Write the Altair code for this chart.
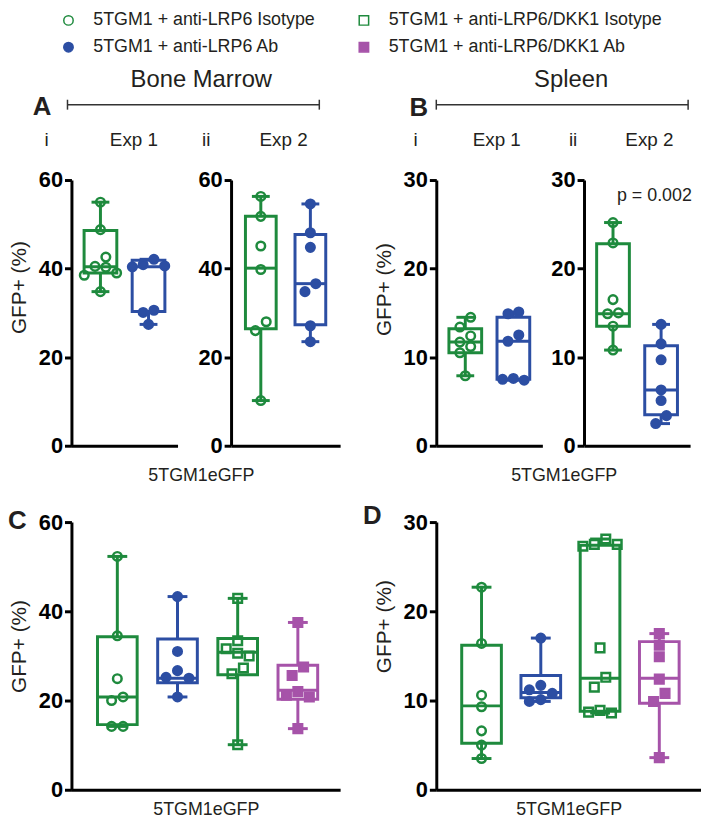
import altair as alt
import pandas as pd

FONT = "Liberation Sans"
TXT = "#231f20"

# ---------------- groups & styling ----------------
G1 = "5TGM1 + anti-LRP6 Isotype"
G2 = "5TGM1 + anti-LRP6 Ab"
G3 = "5TGM1 + anti-LRP6/DKK1 Isotype"
G4 = "5TGM1 + anti-LRP6/DKK1 Ab"
legend_groups = [G1, G2, G3, G4]
GREEN, BLUE, PURPLE = "#1e8a3d", "#2c4ea3", "#a653a9"
stroke_range = [GREEN, BLUE, GREEN, PURPLE]
fill_range = ["transparent", BLUE, "transparent", PURPLE]
shape_range = ["circle", "circle", "square", "square"]
group_color = dict(zip(legend_groups, stroke_range))

# ---------------- data (GFP+ %) ----------------
ai_iso = [55.0, 48.8, 42.6, 40.5, 40.3, 39.0, 38.5, 34.8]
ai_ab = [42.1, 40.9, 40.6, 40.4, 30.6, 30.1, 27.4]
aii_iso = [56.3, 51.8, 45.1, 39.8, 28.0, 26.0, 10.2]
aii_ab = [54.6, 48.1, 44.8, 36.6, 34.8, 27.1, 23.5]
bi_iso = [14.5, 13.4, 12.4, 11.7, 11.2, 10.5, 7.9]
bi_ab = [15.1, 14.9, 12.5, 11.8, 7.6, 7.5, 7.4]
bii_iso = [25.2, 22.9, 16.5, 15.0, 14.9, 13.5, 10.8]
bii_ab = [13.7, 11.5, 9.7, 6.3, 5.1, 3.4, 2.5]
c_iso = [52.3, 34.5, 24.9, 20.8, 20.0, 14.2, 14.2]
c_ab = [43.3, 31.0, 26.7, 25.2, 25.0, 20.8]
c_dkk_iso = [42.9, 33.4, 31.6, 30.6, 30.0, 27.3, 26.0, 10.1]
c_dkk_ab = [37.5, 27.5, 25.6, 22.0, 21.2, 20.8, 13.7]
d_iso = [22.7, 16.4, 10.6, 9.3, 6.6, 5.0, 3.5]
d_ab = [17.0, 11.7, 11.2, 10.8, 10.1, 9.9]
d_dkk_iso = [28.1, 27.5, 27.5, 27.3, 15.9, 12.6, 11.5, 8.9, 8.7, 8.6]
d_dkk_ab = [17.5, 16.2, 14.9, 12.4, 10.8, 9.9, 3.6]

# box statistics: min, Q1, median, Q3, max
ai_iso_box = [34.8, 39.0, 40.4, 48.6, 55.0]
ai_ab_box = [27.4, 30.3, 40.4, 41.9, 42.1]
aii_iso_box = [10.2, 26.4, 40.1, 51.8, 56.3]
aii_ab_box = [23.5, 27.3, 36.6, 47.7, 54.6]
bi_iso_box = [7.9, 10.5, 11.7, 13.2, 14.5]
bi_ab_box = [7.4, 7.5, 11.8, 14.5, 15.1]
bii_iso_box = [10.8, 13.5, 14.9, 22.8, 25.2]
bii_ab_box = [2.5, 3.5, 6.3, 11.3, 13.7]
c_iso_box = [14.2, 14.6, 20.8, 34.3, 52.3]
c_ab_box = [20.8, 24.0, 25.0, 33.8, 43.3]
c_dkk_iso_box = [10.1, 25.8, 30.8, 33.9, 42.9]
c_dkk_ab_box = [13.7, 20.3, 22.3, 27.9, 37.5]
d_iso_box = [3.5, 5.2, 9.4, 16.2, 22.7]
d_ab_box = [9.9, 10.3, 10.9, 12.8, 17.0]
d_dkk_iso_box = [8.6, 8.8, 12.5, 27.4, 28.1]
d_dkk_ab_box = [3.6, 9.7, 12.5, 16.6, 17.5]

y_ticks_60 = [0, 20, 40, 60]
y_ticks_30 = [0, 10, 20, 30]


def swarm(vals, thr):
    order = sorted(range(len(vals)), key=lambda i: -vals[i])
    slots = [0] * len(vals)
    placed = []
    for i in order:
        v = vals[i]
        chosen = 0
        for s in [0, -1, 1, -2, 2, -3, 3]:
            if all(abs(v - pv) >= thr for ps, pv in placed if ps == s):
                chosen = s
                break
        slots[i] = chosen
        placed.append((chosen, v))
    clusters, cur = [], [order[0]]
    for a, b in zip(order, order[1:]):
        if vals[a] - vals[b] < thr:
            cur.append(b)
        else:
            clusters.append(cur)
            cur = [b]
    clusters.append(cur)
    out = [0.0] * len(vals)
    for cl in clusters:
        ss = [slots[i] for i in cl]
        shift = (min(ss) + max(ss)) / 2
        for i in cl:
            out[i] = slots[i] - shift
    return out


def txt(s, x, y, size=19, weight="normal", align="center"):
    return alt.Chart(pd.DataFrame({"t": [s]})).mark_text(
        font=FONT, fontSize=size, fontWeight=weight, align=align,
        baseline="middle", color=TXT
    ).encode(x=alt.value(x), y=alt.value(y), text="t:N")


def rule(x1, x2, y1, y2):
    return alt.Chart(pd.DataFrame({"t": [0]})).mark_rule(
        color="#333333", strokeWidth=1.5
    ).encode(x=alt.value(x1), x2=alt.value(x2), y=alt.value(y1), y2=alt.value(y2))


def bracket(x1, x2, y):
    return [rule(x1, x2, y, y), rule(x1, x1, y - 5, y + 5), rule(x2, x2, y - 5, y + 5)]


LEG = alt.Legend(
    orient="none", legendX=-12, legendY=0, columns=2, title=None,
    labelFontSize=18, labelFont=FONT, labelColor=TXT, labelLimit=500,
    symbolSize=90, symbolStrokeWidth=1.5, columnPadding=40, rowPadding=9,
    labelOffset=16, padding=0,
)


def panel(spec, ymax, yvals, width, height, xdom, positions, box_w, cap_w,
          ytitle=None, ytitle_y=None, xtitle=None, annotations=()):
    px_per_unit = width / (xdom[1] - xdom[0])
    step = 12.0 / px_per_unit
    thr = 10.0 * ymax / height
    rows, brows = [], []
    for (g, vals, stats), pos in zip(spec, positions):
        offs = swarm(vals, thr)
        for v, o in zip(vals, offs):
            rows.append({"group": g, "x": pos + o * step, "y": v})
        brows.append({"group": g, "col": group_color[g], "x": pos, "lo": stats[0],
                      "q1": stats[1], "med": stats[2], "q3": stats[3], "hi": stats[4]})
    pts = pd.DataFrame(rows)
    bx = pd.DataFrame(brows)

    xs = alt.Scale(domain=xdom, nice=False, zero=False)
    ys = alt.Scale(domain=[0, ymax], nice=False, zero=True)
    xkw = dict(labels=False, ticks=False, grid=False, domainColor="black",
               domainWidth=3, title=xtitle)
    if xtitle:
        xkw.update(titleFontSize=18, titlePadding=11, titleFontWeight="normal",
                   titleFont=FONT, titleColor=TXT)
    xax = alt.Axis(**xkw)
    ykw = dict(values=yvals, format="d", grid=False, title=ytitle,
               domainColor="black", domainWidth=3, tickColor="black",
               tickWidth=3, tickSize=7, labelFont=FONT, labelFontWeight="bold",
               labelFontSize=22, labelColor="black", labelPadding=2)
    if ytitle:
        ykw.update(titleY=ytitle_y, titlePadding=9, titleFontSize=21,
                   titleFontWeight="normal", titleFont=FONT, titleColor=TXT)
    yax = alt.Axis(**ykw)

    X = alt.X("x:Q", scale=xs, axis=xax)
    ck = alt.Color("col:N", scale=None)

    base = alt.Chart(bx)
    w_lo = base.mark_rule(strokeWidth=3).encode(
        x=X, y=alt.Y("lo:Q", scale=ys, axis=yax), y2="q1:Q", color=ck)
    w_hi = base.mark_rule(strokeWidth=3).encode(
        x=X, y=alt.Y("q3:Q", scale=ys, axis=yax), y2="hi:Q", color=ck)
    cap_lo = base.mark_tick(orient="horizontal", size=cap_w, thickness=3, opacity=1).encode(
        x=X, y=alt.Y("lo:Q", scale=ys, axis=yax), color=ck)
    cap_hi = base.mark_tick(orient="horizontal", size=cap_w, thickness=3, opacity=1).encode(
        x=X, y=alt.Y("hi:Q", scale=ys, axis=yax), color=ck)
    box = base.mark_bar(size=box_w, filled=False, strokeWidth=3, opacity=1).encode(
        x=X, y=alt.Y("q1:Q", scale=ys, axis=yax), y2="q3:Q", color=ck)
    med = base.mark_tick(orient="horizontal", size=box_w, thickness=3, opacity=1).encode(
        x=X, y=alt.Y("med:Q", scale=ys, axis=yax), color=ck)
    points = alt.Chart(pts).mark_point(size=75, strokeWidth=2.5, opacity=1).encode(
        x=X, y=alt.Y("y:Q", scale=ys, axis=yax),
        shape=alt.Shape("group:N", scale=alt.Scale(domain=legend_groups, range=shape_range), legend=LEG),
        stroke=alt.Stroke("group:N", scale=alt.Scale(domain=legend_groups, range=stroke_range), legend=LEG),
        fill=alt.Fill("group:N", scale=alt.Scale(domain=legend_groups, range=fill_range), legend=LEG),
    )
    return alt.layer(w_lo, w_hi, cap_lo, cap_hi, box, med, points, *annotations).properties(
        width=width, height=height)


R1H = 268
R2H = 270
X1 = [0, 2]
P1 = [0.5, 1.5]
X2 = [-0.68, 3.62]
P2 = [0, 1, 2, 3]

ai = panel([(G1, ai_iso, ai_iso_box), (G2, ai_ab, ai_ab_box)], 60, y_ticks_60, 107, R1H, X1, P1, 33, 18,
           ytitle="GFP+ (%)", ytitle_y=108)
aii = panel([(G1, aii_iso, aii_iso_box), (G2, aii_ab, aii_ab_box)], 60, y_ticks_60, 110, R1H, X1, P1, 31, 18)
bi = panel([(G1, bi_iso, bi_iso_box), (G2, bi_ab, bi_ab_box)], 30, y_ticks_30, 107, R1H, X1, P1, 33, 18,
           ytitle="GFP+ (%)", ytitle_y=110)
bii = panel([(G1, bii_iso, bii_iso_box), (G2, bii_ab, bii_ab_box)], 30, y_ticks_30, 107, R1H, X1, P1, 33, 18,
            annotations=[txt("p = 0.002", 71, 16, 18)])

c = panel([(G1, c_iso, c_iso_box), (G2, c_ab, c_ab_box), (G3, c_dkk_iso, c_dkk_iso_box),
           (G4, c_dkk_ab, c_dkk_ab_box)], 60, y_ticks_60, 271, R2H, X2, P2, 40, 20,
          ytitle="GFP+ (%)", ytitle_y=125, xtitle="5TGM1eGFP",
          annotations=[txt("C", -64, -1, 26, "bold", "left")])
d = panel([(G1, d_iso, d_iso_box), (G2, d_ab, d_ab_box), (G3, d_dkk_iso, d_dkk_iso_box),
           (G4, d_dkk_ab, d_dkk_ab_box)], 30, y_ticks_30, 267, R2H, X2, P2, 40, 20,
          ytitle="GFP+ (%)", ytitle_y=105, xtitle="5TGM1eGFP",
          annotations=[txt("D", -74, -6, 26, "bold", "left")])

# header strip (section titles, brackets, panel letters, experiment labels);
# its origin lines up with the first plot's left edge
header = alt.layer(
    txt("Bone Marrow", 131, 69, 24), *bracket(-4, 250, 94), txt("A", -39, 96, 26, "bold", "left"),
    txt("i", -25, 130), txt("Exp 1", 63, 130), txt("ii", 136, 130), txt("Exp 2", 214, 130),
    txt("Spleen", 504, 69, 24), *bracket(368, 622, 94), txt("B", 341, 97, 26, "bold", "left"),
    txt("i", 347, 130), txt("Exp 1", 429, 130), txt("ii", 506, 130), txt("Exp 2", 583, 130),
).properties(width=620, height=159)

footer = alt.layer(
    txt("5TGM1eGFP", 131, 20, 18), txt("5TGM1eGFP", 497, 20, 18),
).properties(width=620, height=47)

row_a = alt.hconcat(ai, aii, spacing=20)
row_b = alt.hconcat(bi, bii, spacing=8)
row1 = alt.hconcat(row_a, row_b, spacing=33)
row2 = alt.hconcat(c, d, spacing=23)

chart = alt.vconcat(header, row1, footer, row2, spacing=0).properties(
    padding=0).configure(font=FONT).configure_view(stroke=None)

chart.save("out.html", embed_options={"renderer": "svg", "actions": False})
